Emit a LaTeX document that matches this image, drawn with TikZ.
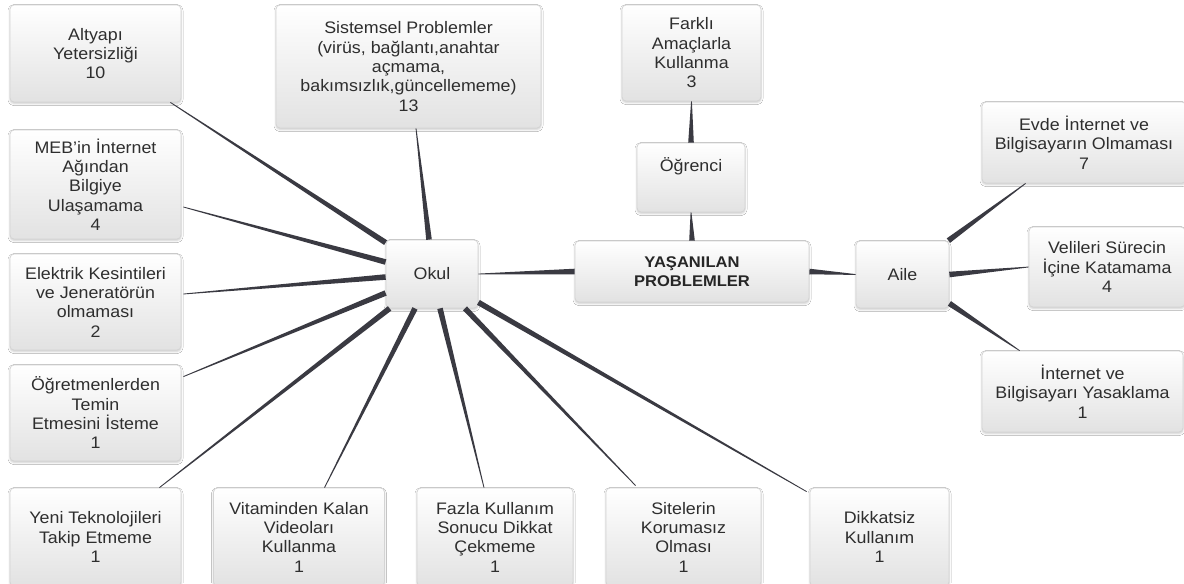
\documentclass[tikz,border=0pt]{standalone}
\usepackage{fontspec}
\setmainfont[FakeStretch=1.07]{Liberation Sans}
\usetikzlibrary{calc, shadows.blur}
\definecolor{spokegray}{HTML}{3A3A42}
\definecolor{boxedge}{HTML}{D4D4D4}
\definecolor{boxfloor}{HTML}{E2E2E2}
\definecolor{cardtext}{HTML}{2E2E2E}

% tapered spoke, thick at the hub end (#1), thin at the leaf end (#2)
\newcommand{\spoke}[2]{%
  \fill[spokegray] ($(#1)!2.1pt!90:(#2)$) -- ($(#1)!2.1pt!-90:(#2)$)
    -- ($(#2)!0.3pt!90:(#1)$) -- ($(#2)!0.3pt!-90:(#1)$) -- cycle;}

\begin{document}
\begin{tikzpicture}[x=0.75pt, y=-0.75pt,
  card/.style={draw=boxedge, line width=0.6pt, rounded corners=3pt,
    top color=white, middle color=white, bottom color=boxfloor,
    text=cardtext, align=center, inner sep=2pt,
    font=\fontsize{12.5}{14.5}\selectfont,
    blur shadow={shadow xshift=0pt, shadow yshift=-1.2pt,
      shadow blur radius=1.5pt, shadow opacity=20}}]

  % Canvas
  \fill[white] (0,0) rectangle (1184,583);
  \useasboundingbox (0,0) rectangle (1184,583);

  % Centre and branches
  \node[card, minimum width=175.5pt, minimum height=45.75pt, text=black!85,
    font=\fontsize{11.6}{14.5}\selectfont\bfseries] (yas) at (692,271.5) {YAŞANILAN\\PROBLEMLER};
  \node[card, minimum width=69pt, minimum height=51pt] (okul) at (432,274) {Okul};
  \node[card, minimum width=69.75pt, minimum height=50.25pt] (aile) at (902.5,274.5) {Aile};
  \node[card, minimum width=81pt, minimum height=51.75pt] (ogr) at (691,177.5) {Öğrenci\\\strut};

  % Öğrenci leaf
  \node[card, minimum width=104.25pt, minimum height=72pt] (farkli) at (691.5,53) {Farklı\\Amaçlarla\\Kullanma\\3};

  % Aile leaves
  \node[card, minimum width=153pt, minimum height=60.75pt] (evde) at (1084,142.5) {Evde İnternet ve\\Bilgisayarın Olmaması\\7};
  \node[card, minimum width=117pt, minimum height=60pt] (veli) at (1107,267) {Velileri Sürecin\\İçine Katamama\\4};
  \node[card, minimum width=150.75pt, minimum height=60.75pt] (yasak) at (1082.5,391.5) {İnternet ve\\Bilgisayarı Yasaklama\\1};

  % Okul leaves - left column
  \node[card, minimum width=128.25pt, minimum height=72.75pt] (altyapi) at (95.5,53.5) {Altyapı\\Yetersizliği\\10};
  \node[card, minimum width=128.25pt, minimum height=81.75pt] (meb) at (95.5,184.5) {MEB'in İnternet\\Ağından\\Bilgiye\\Ulaşamama\\4};
  \node[card, minimum width=128.25pt, minimum height=72pt] (elektrik) at (95.5,302) {Elektrik Kesintileri\\ve Jeneratörün\\olmaması\\2};
  \node[card, minimum width=128.25pt, minimum height=72pt] (temin) at (95.5,413) {Öğretmenlerden\\Temin\\Etmesini İsteme\\1};

  % Okul leaves - top and bottom row
  \node[card, minimum width=198.75pt, minimum height=92.25pt] (sistem) at (408.5,66.5) {Sistemsel Problemler\\(virüs, bağlantı,anahtar\\açmama,\\bakımsızlık,güncellememe)\\13};
  \node[card, minimum width=128.25pt, minimum height=73.5pt] (yeni) at (95.5,537) {Yeni Teknolojileri\\Takip Etmeme\\1};
  \node[card, minimum width=128.25pt, minimum height=73.5pt] (vitamin) at (299,537) {Vitaminden Kalan\\Videoları\\Kullanma\\1};
  \node[card, minimum width=117pt, minimum height=73.5pt] (fazla) at (495,537) {Fazla Kullanım\\Sonucu Dikkat\\Çekmeme\\1};
  \node[card, minimum width=116.25pt, minimum height=73.5pt] (site) at (683.5,537) {Sitelerin\\Korumasız\\Olması\\1};
  \node[card, minimum width=104.25pt, minimum height=73.5pt] (dikkat) at (879.5,537) {Dikkatsiz\\Kullanım\\1};

  % Spoke ends on the Okul box
  \coordinate (oAlt) at ($(okul.north west)+(0,3)$);
  \coordinate (oSis) at ($(okul.north)+(-3,0)$);
  \coordinate (oMeb) at ($(okul.west)+(0,-12)$);
  \coordinate (oEle) at ($(okul.west)+(0,3)$);
  \coordinate (oTem) at ($(okul.west)+(0,19)$);
  \coordinate (oYen) at ($(okul.south west)+(4,0)$);
  \coordinate (oVit) at ($(okul.south)+(-17,0)$);
  \coordinate (oFaz) at ($(okul.south)+(8,0)$);
  \coordinate (oSit) at ($(okul.south)+(33,0)$);
  \coordinate (oDik) at ($(okul.south east)+(0,-6)$);

  % Spoke ends on the leaves
  \coordinate (lAlt) at ($(altyapi.south east)+(-11,0)$);
  \coordinate (lSis) at ($(sistem.south)+(7.5,0)$);
  \coordinate (lMeb) at ($(meb.east)+(2,22.5)$);
  \coordinate (lEle) at ($(elektrik.east)+(2,-8)$);
  \coordinate (lTem) at ($(temin.north east)+(2,12)$);
  \coordinate (lYen) at ($(yeni.north east)+(-22,0)$);
  \coordinate (lVit) at ($(vitamin.north)+(25.5,0)$);
  \coordinate (lFaz) at ($(fazla.north)+(-11,0)$);
  \coordinate (lSit) at ($(site.north west)+(30,-2)$);
  \coordinate (lDik) at ($(dikkat.north west)+(-3,4)$);

  % Aile spoke ends
  \coordinate (aEvd) at ($(aile.north east)+(-1,0)$);
  \coordinate (aYas) at ($(aile.south east)+(0,-5)$);
  \coordinate (lEvd) at ($(evde.south west)+(44,0)$);
  \coordinate (lYas) at ($(yasak.north west)+(38,0)$);

  % Spokes from the centre
  \spoke{yas.west}{okul.east}
  \spoke{yas.north}{ogr.south}
  \spoke{yas.east}{aile.west}
  \spoke{ogr.north}{farkli.south}

  % Spokes from Aile
  \spoke{aEvd}{lEvd}
  \spoke{aile.east}{veli.west}
  \spoke{aYas}{lYas}

  % Spokes from Okul
  \foreach \hub/\leaf in {oAlt/lAlt, oSis/lSis, oMeb/lMeb, oEle/lEle, oTem/lTem,
      oYen/lYen, oVit/lVit, oFaz/lFaz, oSit/lSit, oDik/lDik} {
    \spoke{\hub}{\leaf}
  }

\end{tikzpicture}
\end{document}
